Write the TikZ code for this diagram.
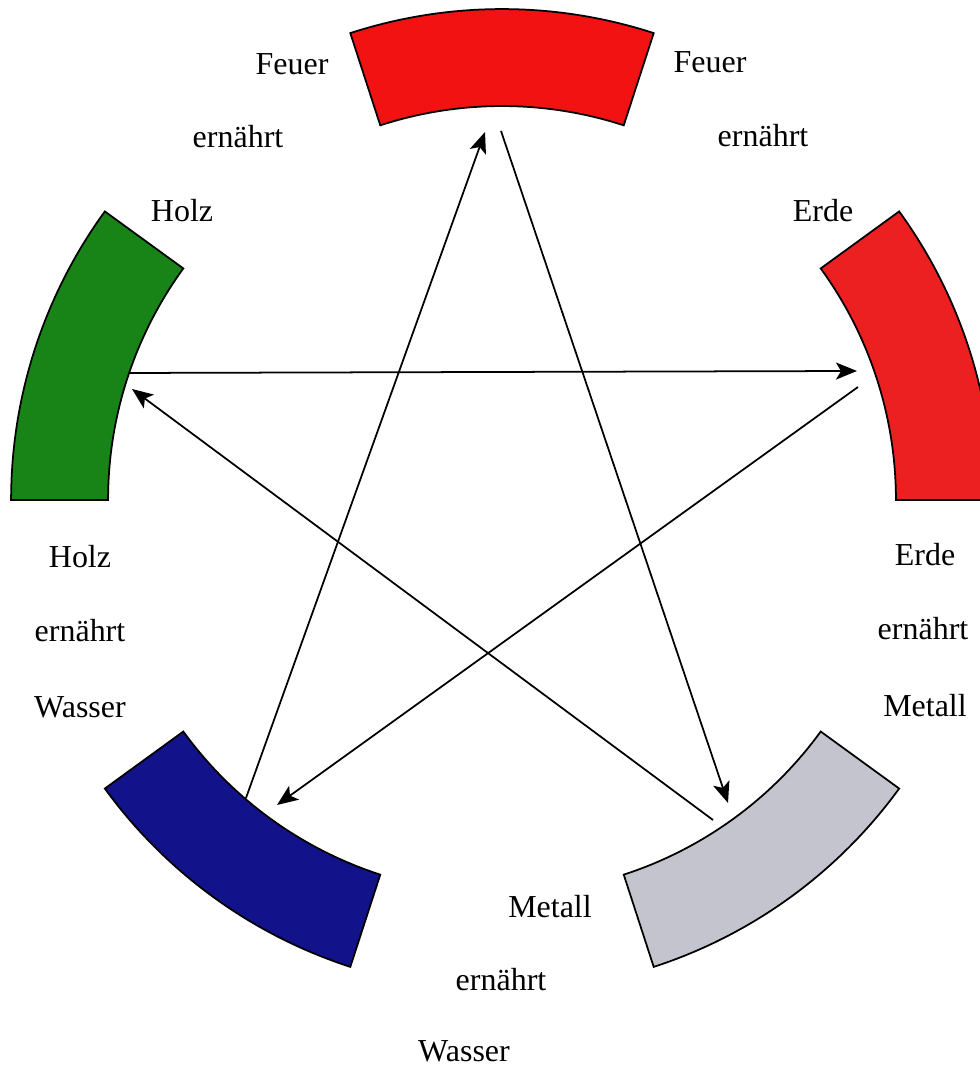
\documentclass[tikz,border=0pt]{standalone}
\usepackage{fontspec}
\setmainfont{Liberation Serif}
\usetikzlibrary{arrows.meta}
\definecolor{firecol}{RGB}{243,18,18}
\definecolor{earthcol}{RGB}{236,32,32}
\definecolor{woodcol}{RGB}{24,132,24}
\definecolor{watercol}{RGB}{18,18,138}
\definecolor{metalcol}{RGB}{196,196,206}
\begin{document}
\begin{tikzpicture}[x=0.02cm,y=0.02cm,
  seg/.style={draw=black,line width=1pt,line join=miter},
  conn/.style={line width=1pt,-{Stealth[length=4.2mm,width=3.4mm,inset=1mm]}},
  lab/.style={anchor=base,inner sep=0pt,font=\fontsize{18.2}{20}\selectfont}]
\useasboundingbox (0,0) rectangle (979,1070);
\coordinate (c) at (502,570);
\foreach \a/\col in {0/earthcol,72/firecol,144/woodcol,216/watercol,288/metalcol}{
  \path[seg,fill=\col] (c) ++(\a:9.82cm) arc[start angle=\a, end angle=\a+36, radius=9.82cm]
     -- ++(\a+36:-1.94cm) arc[start angle=\a+36, end angle=\a, radius=7.88cm] -- cycle;
}
% connector end points
\coordinate (h1) at (129,697);
\coordinate (e1) at (857,699);
\coordinate (e2) at (858,683);
\coordinate (w1) at (277,265);
\coordinate (w2) at (246,272);
\coordinate (f1) at (485,938);
\coordinate (f2) at (501,939);
\coordinate (m1) at (728,267);
\coordinate (m2) at (713,250);
\coordinate (h2) at (132,681);
\draw[conn] (h1) -- (e1);
\draw[conn] (e2) -- (w1);
\draw[conn] (w2) -- (f1);
\draw[conn] (f2) -- (m1);
\draw[conn] (m2) -- (h2);
% labels
\node[lab] (tl1) at (292,995) {Feuer};
\node[lab] (tl2) at (238,922) {ernährt};
\node[lab] (tl3) at (182,848) {Holz};
\node[lab] (tr1) at (710,997) {Feuer};
\node[lab] (tr2) at (763,923) {ernährt};
\node[lab] (tr3) at (823,848) {Erde};
\node[lab] (l1) at (80,502) {Holz};
\node[lab] (l2) at (80,428) {ernährt};
\node[lab] (l3) at (80,352) {Wasser};
\node[lab] (r1) at (925,504) {Erde};
\node[lab] (r2) at (923,430) {ernährt};
\node[lab] (r3) at (925,353) {Metall};
\node[lab] (b1) at (550,152) {Metall};
\node[lab] (b2) at (501,79) {ernährt};
\node[lab] (b3) at (464,9) {Wasser};
\end{tikzpicture}
\end{document}
